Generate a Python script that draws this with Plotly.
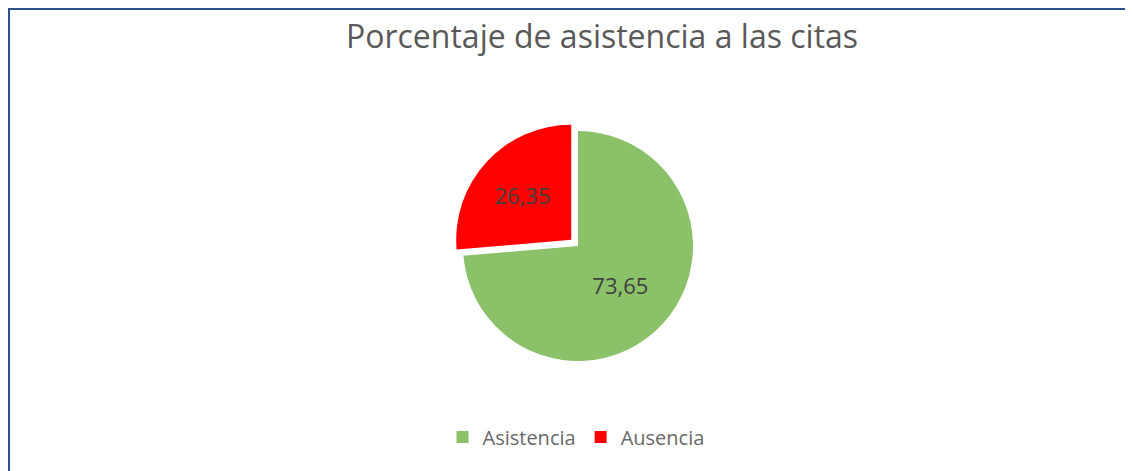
import plotly.graph_objects as go

categories = ["Asistencia", "Ausencia"]
values = [73.65, 26.35]
colors = ["#8BC168", "#FF0000"]
pulls = [0, 0.08]

# page body has an 8px margin, so the figure is placed at (8, 8)
W, H = 1125, 463
cx, cy, half = 570, 225, 124.2   # pie centre (from left / from bottom), half box size

fig = go.Figure(go.Pie(
    labels=categories,
    values=values,
    marker=dict(colors=colors, line=dict(width=0)),
    pull=pulls,
    sort=False,
    direction="clockwise",
    rotation=0,
    textinfo="value",
    texttemplate="%{value:.2f}",
    textposition="inside",
    insidetextorientation="horizontal",
    textfont=dict(family="Open Sans", size=22, color="#404040"),
    domain=dict(x=[(cx - half) / W, (cx + half) / W], y=[(cy - half) / H, (cy + half) / H]),
    hoverinfo="label+value",
))

fig.update_layout(
    width=W, height=H,
    margin=dict(l=0, r=0, t=0, b=0),
    paper_bgcolor="white",
    plot_bgcolor="white",
    separators=",.",
    title=dict(text="Porcentaje de asistencia a las citas",
               x=594 / W, xanchor="center", y=1 - 29 / H, yanchor="middle",
               font=dict(family="Open Sans", size=32, color="#595959")),
    legend=dict(orientation="h", x=568 / W, xanchor="center", y=34 / H, yanchor="middle",
                font=dict(family="Open Sans", size=20, color="#6a6a6a"),
                itemwidth=30, traceorder="normal"),
    shapes=[
        dict(type="line", xref="paper", yref="paper", x0=0, x1=1, y0=1, y1=1,
             line=dict(color="#2B5289", width=4)),
        dict(type="line", xref="paper", yref="paper", x0=0, x1=0, y0=0, y1=1,
             line=dict(color="#2B5289", width=4)),
    ],
)

fig.write_html("out.html")
